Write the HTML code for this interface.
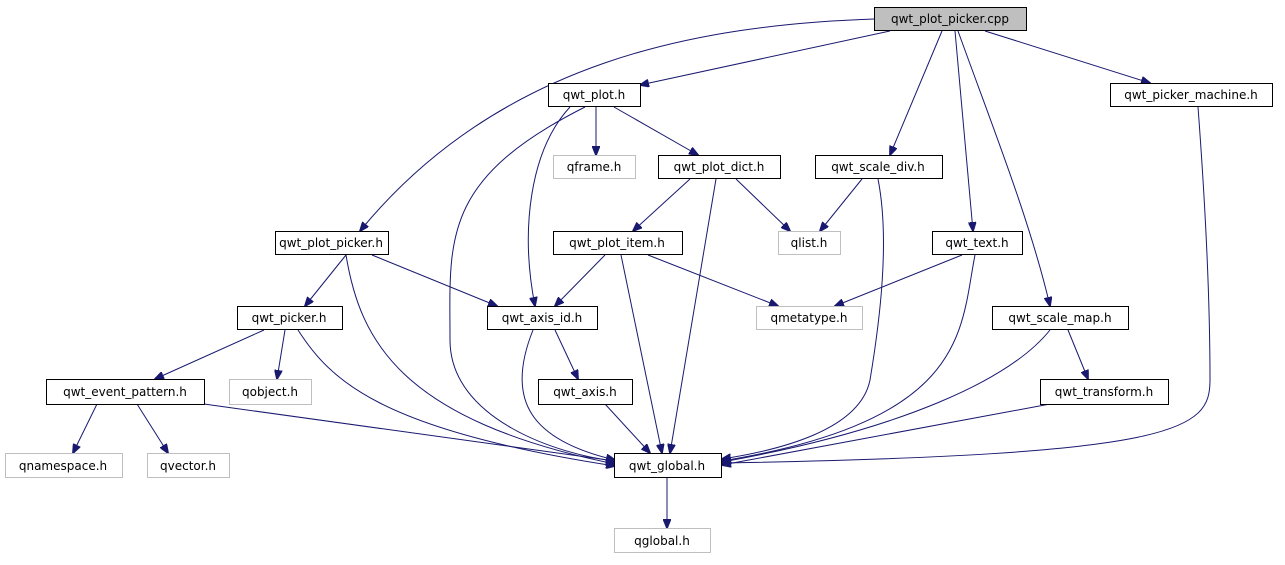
<!DOCTYPE html>
<html><head><meta charset="utf-8"><style>
body{margin:0;background:#fff}
text{font-family:"DejaVu Sans","Liberation Sans",sans-serif;font-size:12px;text-anchor:middle}
.b{fill:#fff;stroke:#000;stroke-width:1}
.g{fill:#fff;stroke:#bfbfbf;stroke-width:1}
path{fill:none;stroke:#191970;stroke-width:1}
</style></head><body>
<svg width="1285" height="560" viewBox="0 0 1285 560">
<defs><marker id="a" markerWidth="10" markerHeight="8" refX="9" refY="4" orient="auto" markerUnits="userSpaceOnUse"><path d="M0,0 L10,4 L0,8 Z" style="fill:#191970;stroke:#191970"/></marker></defs>
<g marker-end="url(#a)">
<path d="M890,31 L640,85"/>
<path d="M874,19 C700,25 500,60 360,231"/>
<path d="M942,31 L890,155"/>
<path d="M955,31 L973,231"/>
<path d="M958,31 C990,120 1030,220 1050,306"/>
<path d="M985,31 L1150,83"/>
<path d="M1198,107 C1205,200 1210,300 1210,380 C1210,430 1180,455 722,463"/>
<path d="M596,107 L596,155"/>
<path d="M614,107 L698,155"/>
<path d="M570,107 C530,150 520,230 535,306"/>
<path d="M585,107 C440,180 450,240 450,340 C450,420 560,455 615,461"/>
<path d="M690,179 L633,231"/>
<path d="M736,179 L790,231"/>
<path d="M716,179 L670,453"/>
<path d="M862,179 L820,231"/>
<path d="M878,179 C890,240 880,320 870,380 C860,430 780,450 722,459"/>
<path d="M962,255 L835,306"/>
<path d="M975,255 C960,330 970,420 722,461"/>
<path d="M346,255 L305,306"/>
<path d="M372,255 L497,306"/>
<path d="M346,255 C360,340 400,420 615,464"/>
<path d="M605,255 L555,306"/>
<path d="M648,255 L778,306"/>
<path d="M621,255 L662,453"/>
<path d="M264,330 L155,379"/>
<path d="M285,330 L277,379"/>
<path d="M298,330 C330,380 380,430 615,466"/>
<path d="M555,330 L578,379"/>
<path d="M533,330 C505,400 530,440 615,460"/>
<path d="M605,404 L650,453"/>
<path d="M204,404 L615,461"/>
<path d="M97,404 L73,453"/>
<path d="M137,404 L168,453"/>
<path d="M1050,330 C1010,380 900,430 722,462"/>
<path d="M1068,330 L1088,379"/>
<path d="M1050,404 L722,465"/>
<path d="M667,477 L667,528"/>
</g>
<rect x="874.5" y="7.5" width="152" height="23" style="fill:#bfbfbf;stroke:#000"/><text x="950" y="23">qwt_plot_picker.cpp</text>
<rect class="b" x="548.5" y="83.5" width="92" height="23"/><text x="594" y="99">qwt_plot.h</text>
<rect class="b" x="1110.5" y="83.5" width="162" height="23"/><text x="1191" y="99">qwt_picker_machine.h</text>
<rect class="g" x="553.5" y="155.5" width="82" height="23"/><text x="594" y="171">qframe.h</text>
<rect class="b" x="658.5" y="155.5" width="122" height="23"/><text x="719" y="171">qwt_plot_dict.h</text>
<rect class="b" x="815.5" y="155.5" width="127" height="23"/><text x="878" y="171">qwt_scale_div.h</text>
<rect class="b" x="275.5" y="231.5" width="113" height="23"/><text x="331" y="247">qwt_plot_picker.h</text>
<rect class="b" x="553.5" y="231.5" width="129" height="23"/><text x="617" y="247">qwt_plot_item.h</text>
<rect class="g" x="778.5" y="231.5" width="62" height="23"/><text x="809" y="247">qlist.h</text>
<rect class="b" x="932.5" y="231.5" width="90" height="23"/><text x="977" y="247">qwt_text.h</text>
<rect class="b" x="237.5" y="306.5" width="105" height="23"/><text x="289" y="322">qwt_picker.h</text>
<rect class="b" x="487.5" y="306.5" width="110" height="23"/><text x="542" y="322">qwt_axis_id.h</text>
<rect class="g" x="756.5" y="306.5" width="106" height="23"/><text x="809" y="322">qmetatype.h</text>
<rect class="b" x="992.5" y="306.5" width="136" height="23"/><text x="1060" y="322">qwt_scale_map.h</text>
<rect class="b" x="46.5" y="379.5" width="158" height="25"/><text x="125" y="396">qwt_event_pattern.h</text>
<rect class="g" x="229.5" y="379.5" width="82" height="25"/><text x="270" y="396">qobject.h</text>
<rect class="b" x="538.5" y="379.5" width="94" height="25"/><text x="585" y="396">qwt_axis.h</text>
<rect class="b" x="1040.5" y="379.5" width="128" height="25"/><text x="1104" y="396">qwt_transform.h</text>
<rect class="g" x="5.5" y="453.5" width="117" height="24"/><text x="63" y="470">qnamespace.h</text>
<rect class="g" x="147.5" y="453.5" width="82" height="24"/><text x="188" y="470">qvector.h</text>
<rect class="b" x="614.5" y="453.5" width="107" height="24"/><text x="667" y="470">qwt_global.h</text>
<rect class="g" x="614.5" y="528.5" width="96" height="24"/><text x="662" y="545">qglobal.h</text>
</svg>
</body></html>
